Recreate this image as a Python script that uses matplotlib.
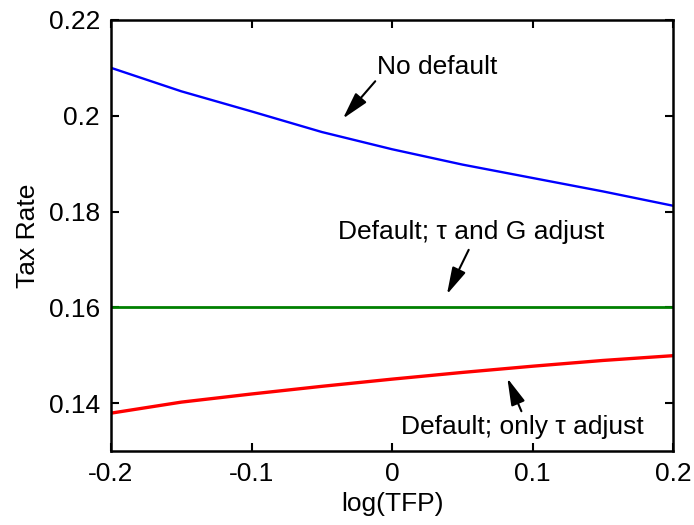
import matplotlib.pyplot as plt

plt.rcParams['font.family'] = ['Liberation Sans', 'DejaVu Sans']

# log TFP grid and tax rates for the three regimes
log_tfp = [-0.2, -0.15, -0.1, -0.05, 0.0, 0.05, 0.1, 0.15, 0.2]
tax_no_default = [0.2100, 0.2051, 0.2009, 0.1966, 0.1930, 0.1898, 0.1870, 0.1842, 0.1812]
tax_tau_g = [0.16, 0.16, 0.16, 0.16, 0.16, 0.16, 0.16, 0.16, 0.16]
tax_only_tau = [0.1379, 0.1402, 0.1419, 0.1435, 0.1450, 0.1464, 0.1477, 0.1489, 0.1499]

x_ticks = [-0.2, -0.1, 0, 0.1, 0.2]
x_tick_labels = ['-0.2', '-0.1', '0', '0.1', '0.2']
y_ticks = [0.14, 0.16, 0.18, 0.2, 0.22]
y_tick_labels = ['0.14', '0.16', '0.18', '0.2', '0.22']

fig = plt.figure(figsize=(6.94, 5.25), dpi=100)
ax = fig.add_axes([0.160, 0.141, 0.810, 0.821])

ax.plot(log_tfp, tax_no_default, color='#0000ff', lw=1.7)
ax.plot(log_tfp, tax_tau_g, color='#008000', lw=2.0)
ax.plot(log_tfp, tax_only_tau, color='#ff0000', lw=2.4)

ax.set_xlim(-0.2, 0.2)
ax.set_ylim(0.13, 0.22)
ax.set_xticks(x_ticks)
ax.set_xticklabels(x_tick_labels)
ax.set_yticks(y_ticks)
ax.set_yticklabels(y_tick_labels)
ax.tick_params(direction='in', length=6, width=1.5, top=True, right=True,
               labelsize=19, pad=8)
for s in ax.spines.values():
    s.set_linewidth(1.8)

ax.set_xlabel('log(TFP)', fontsize=19, labelpad=4)
ax.set_ylabel('Tax Rate', fontsize=19, labelpad=6)

arrow = dict(arrowstyle='-|>,head_length=0.75,head_width=0.2', color='black',
             lw=1.5, mutation_scale=22, shrinkA=0, shrinkB=0)
ax.annotate('', xy=(-0.035, 0.1994), xytext=(-0.012, 0.2072), arrowprops=arrow)
ax.text(-0.011, 0.2101, 'No default', fontsize=19, ha='left', va='center')

ax.annotate('', xy=(0.039, 0.1627), xytext=(0.0545, 0.172), arrowprops=arrow)
ax.text(0.056, 0.1757, 'Default; τ and G adjust', fontsize=19, ha='center', va='center')

ax.annotate('', xy=(0.082, 0.1452), xytext=(0.092, 0.1383), arrowprops=arrow)
ax.text(0.093, 0.1350, 'Default; only τ adjust', fontsize=19, ha='center', va='center')

plt.savefig('out.png', dpi=100)
plt.close()
